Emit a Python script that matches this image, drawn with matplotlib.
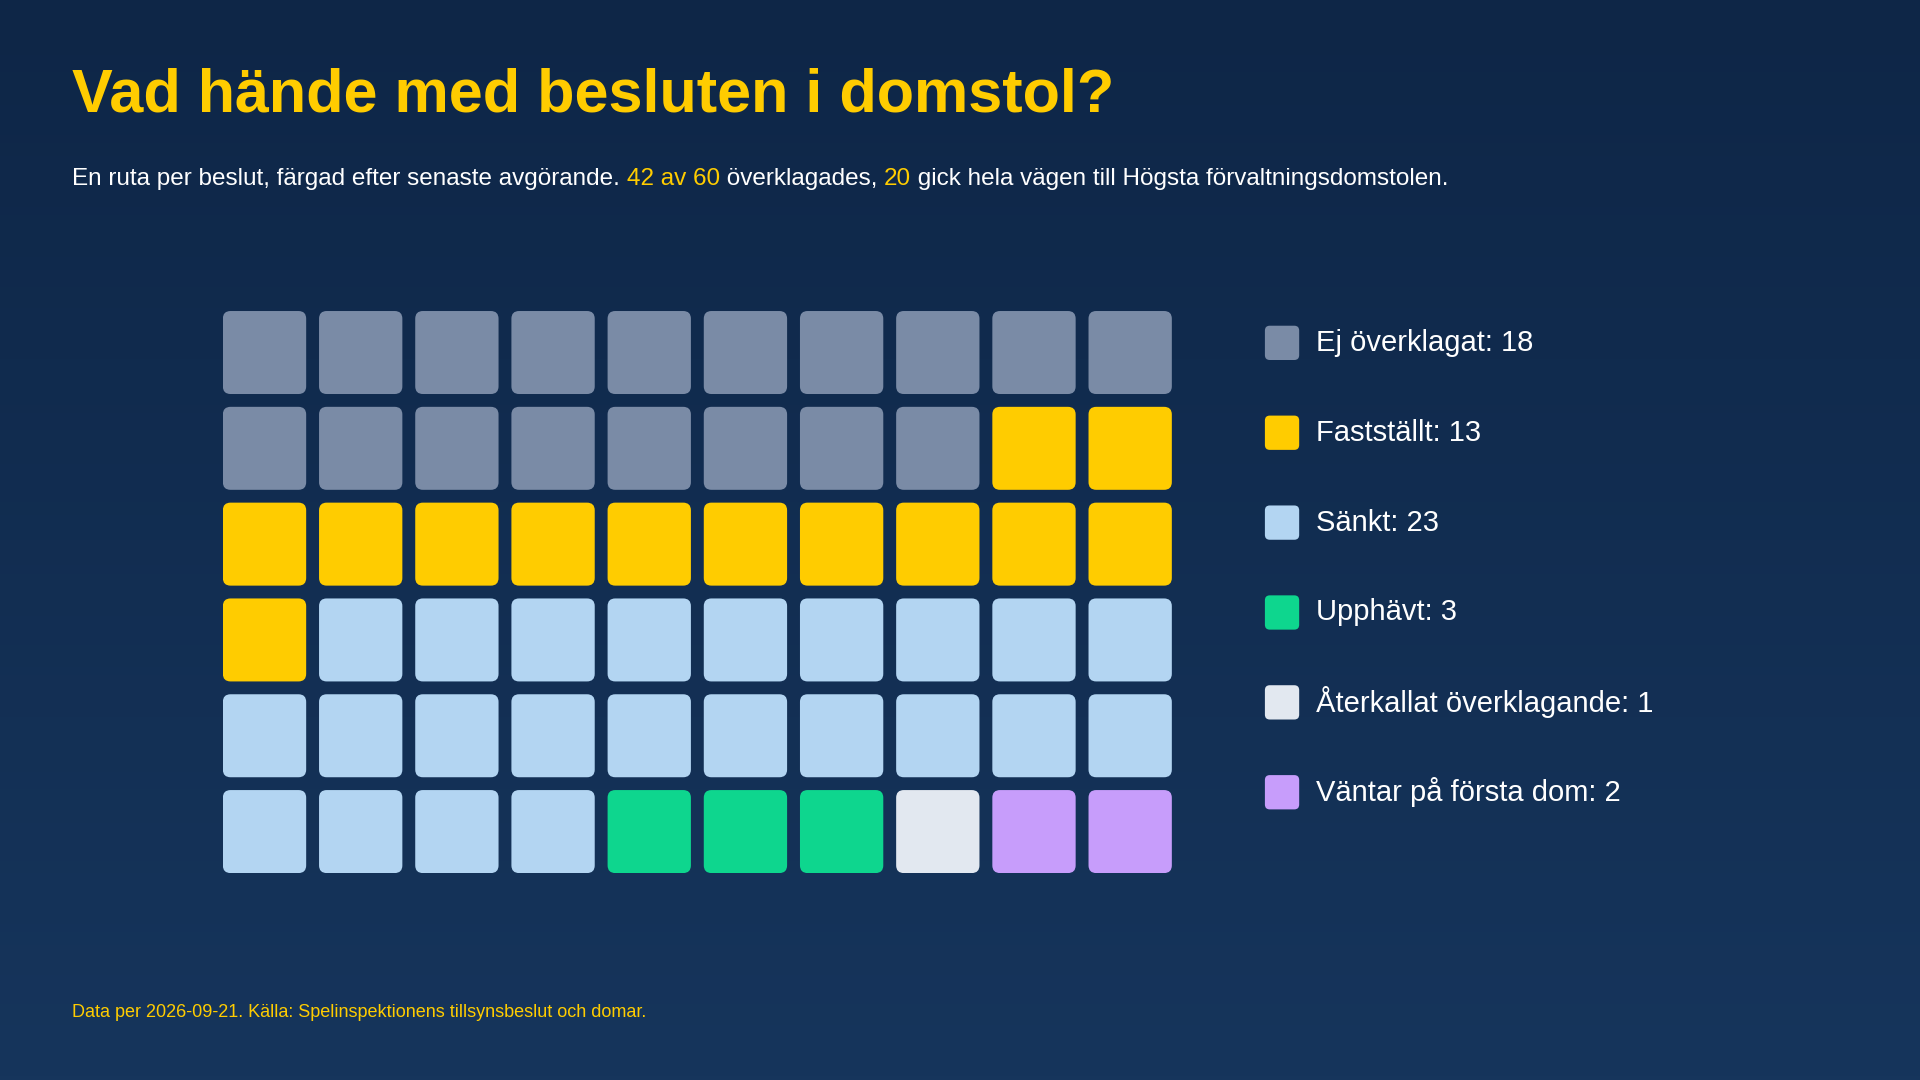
import matplotlib
matplotlib.use("Agg")
import matplotlib.pyplot as plt
from matplotlib.patches import FancyBboxPatch
import numpy as np

plt.rcParams['font.family'] = ['Liberation Sans', 'DejaVu Sans']

categories = ["Ej överklagat", "Fastställt", "Sänkt", "Upphävt", "Återkallat överklagande", "Väntar på första dom"]
counts = [18, 13, 23, 3, 1, 2]
colors = ["#7a8ba6", "#ffcc00", "#b3d5f2", "#0ed68e", "#e2e8f0", "#c79dfb"]
n_cols = 10

W, H = 1568, 882
fig = plt.figure(figsize=(19.2, 10.8), dpi=100)
bg = fig.add_axes([0, 0, 1, 1])
grad = np.linspace(0, 1, 256).reshape(-1, 1)
from matplotlib.colors import LinearSegmentedColormap
cm = LinearSegmentedColormap.from_list("bg", ["#0e2647", "#16355c"])
bg.imshow(grad, aspect='auto', cmap=cm, extent=[0, W, H, 0])
bg.set_xlim(0, W); bg.set_ylim(H, 0); bg.axis('off')

def fx(x): return x / W
def fy(y): return 1 - y / H

fig.text(fx(59), fy(78), "Vad hände med besluten i domstol?", color="#ffcc00",
         fontsize=44, fontweight='bold', va='center', ha='left')

# subtitle pieces
parts = [("En ruta per beslut, färgad efter senaste avgörande. ", "white"),
         ("42 av 60", "#ffcc00"), (" överklagades, ", "white"),
         ("20", "#ffcc00"), (" gick hela vägen till Högsta förvaltningsdomstolen.", "white")]
r = fig.canvas.get_renderer()
x = fx(59)
for s, c in parts:
    t = fig.text(x, fy(146), s, color=c, fontsize=17.5, va='center', ha='left')
    bb = t.get_window_extent(renderer=r)
    x += bb.width / fig.bbox.width

fig.text(fx(59), fy(827), "Data per 2026-09-21. Källa: Spelinspektionens tillsynsbeslut och domar.",
         color="#ffcc00", fontsize=13, va='center', ha='left')

# waffle
cell = 68 / 78.5
ax = fig.add_axes([fx(182), fy(713), fx(957) - fx(182), fy(254) - fy(713)])
ax.set_xlim(0, 9 + cell); ax.set_ylim(5 + cell, 0); ax.axis('off')
idx = 0
for ci, (cnt, col) in enumerate(zip(counts, colors)):
    for _ in range(cnt):
        r_, c_ = divmod(idx, n_cols)
        ax.add_patch(FancyBboxPatch((c_, r_), cell, cell, boxstyle="round,pad=0,rounding_size=0.08",
                                    fc=col, ec='none'))
        idx += 1

# legend
for i, (cat, cnt, col) in enumerate(zip(categories, counts, colors)):
    yc = 280 + i * 73.4
    bg.add_patch(FancyBboxPatch((1033, yc - 14), 28, 28, boxstyle="round,pad=0,rounding_size=4",
                                fc=col, ec='none'))
    bg.text(1075, yc, f"{cat}: {cnt}", color="white", fontsize=21, va='center', ha='left')

fig.savefig("out.png", dpi=100)
